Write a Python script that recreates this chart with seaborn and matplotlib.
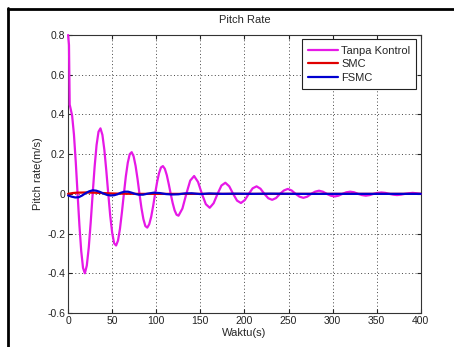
import numpy as np
import pandas as pd
import seaborn as sns
import matplotlib
matplotlib.use("Agg")
import matplotlib.pyplot as plt
from matplotlib.lines import Line2D

# ---- data ----
t_tk = [0.0, 1.0, 1.8, 2.8, 4.56, 6.63, 8.69, 10.75, 12.81, 14.88, 16.94,
        19.0, 21.21, 23.43, 25.64, 27.85, 30.06, 32.28, 34.49,
        36.7, 38.91, 41.13, 43.34, 45.55, 47.76, 49.98, 52.19,
        54.4, 56.61, 58.83, 61.04, 63.25, 65.46, 67.68, 69.89,
        72.1, 74.31, 76.53, 78.74, 80.95, 83.16, 85.38, 87.59,
        89.8, 92.01, 94.23, 96.44, 98.65, 100.86, 103.08, 105.29,
        107.5, 109.71, 111.93, 114.14, 116.35, 118.56, 120.78, 122.99,
        125.2, 129.63, 134.05, 138.48,
        142.9, 147.33, 151.75, 156.18,
        160.6, 165.03, 169.45, 173.88,
        178.3, 182.73, 187.15, 191.58,
        196.0, 200.43, 204.85, 209.28,
        213.7, 218.13, 222.55, 226.98,
        231.4, 235.83, 240.25, 244.68,
        249.1, 253.53, 257.95, 262.38,
        266.8, 271.23, 275.65, 280.08,
        284.5, 288.93, 293.35, 297.78,
        302.2, 306.63, 311.05, 315.48,
        319.9, 324.33, 328.75, 333.18,
        337.6, 342.03, 346.45, 350.88,
        355.3, 359.73, 364.15, 368.58,
        373.0, 377.43, 381.85, 386.28,
        390.7, 395.13, 400.0]
v_tk = [0.80, 0.75, 0.45, 0.43, 0.394, 0.299, 0.160, 0.0, -0.157, -0.288, -0.373,
        -0.40, -0.361, -0.270, -0.143, 0.0, 0.136, 0.246, 0.313,
        0.33, 0.297, 0.221, 0.116, 0.0, -0.110, -0.196, -0.249,
        -0.26, -0.235, -0.175, -0.092, 0.0, 0.088, 0.157, 0.200,
        0.21, 0.189, 0.141, 0.075, 0.0, -0.071, -0.127, -0.162,
        -0.17, -0.153, -0.115, -0.061, 0.0, 0.058, 0.104, 0.133,
        0.14, 0.126, 0.094, 0.049, 0.0, -0.046, -0.083, -0.105,
        -0.11, -0.074, 0.0, 0.067,
        0.09, 0.060, 0.0, -0.052,
        -0.07, -0.047, 0.0, 0.042,
        0.056, 0.038, 0.0, -0.034,
        -0.046, -0.031, 0.0, 0.028,
        0.038, 0.026, 0.0, -0.022,
        -0.030, -0.021, 0.0, 0.017,
        0.025, 0.017, 0.0, -0.014,
        -0.020, -0.014, 0.0, 0.011,
        0.016, 0.011, 0.0, -0.009,
        -0.013, -0.009, 0.0, 0.008,
        0.011, 0.008, 0.0, -0.006,
        -0.009, -0.006, 0.0, 0.005,
        0.007, 0.005, 0.0, -0.004,
        -0.006, -0.004, 0.0, 0.003,
        0.005, 0.003, 0.0]

t_smc = [0, 5, 10, 20, 30, 40, 50, 60, 80, 100, 150, 400]
v_smc = [0.0, 0.004, 0.006, 0.007, 0.006, 0.004, 0.002, 0.001, 0.0, 0.0, 0.0, 0.0]

t_fsmc = [0, 4, 8, 12, 16, 20, 24, 28, 32, 36, 40, 44, 48, 52, 56, 60, 64, 68,
          72, 76, 80, 85, 90, 97, 104, 111, 118, 125, 132, 140, 150, 160, 175,
          190, 210, 230, 260, 300, 350, 400]
v_fsmc = [-0.008, -0.014, -0.018, -0.017, -0.008, 0.004, 0.013, 0.018, 0.016,
          0.010, 0.002, -0.005, -0.008, -0.007, -0.002, 0.006, 0.011, 0.011,
          0.006, 0.000, -0.004, -0.004, 0.001, 0.006, 0.004, -0.001, -0.003,
          -0.002, 0.002, 0.003, -0.001, 0.002, 0.0, 0.001, 0.0, 0.001, 0.0,
          0.0, 0.0, 0.0]

series_names = ["Tanpa Kontrol", "SMC", "FSMC"]
x_ticks = [0, 50, 100, 150, 200, 250, 300, 350, 400]
y_ticks = [-0.6, -0.4, -0.2, 0, 0.2, 0.4, 0.6, 0.8]
y_tick_labels = ["-0.6", "-0.4", "-0.2", "0", "0.2", "0.4", "0.6", "0.8"]

df = pd.concat([
    pd.DataFrame({"t": t_tk, "v": v_tk, "s": series_names[0]}),
    pd.DataFrame({"t": t_smc, "v": v_smc, "s": series_names[1]}),
    pd.DataFrame({"t": t_fsmc, "v": v_fsmc, "s": series_names[2]}),
], ignore_index=True)

sns.set_style("white")
plt.rcParams["font.family"] = ["Liberation Sans", "DejaVu Sans"]

fig = plt.figure(figsize=(4.54, 3.47), dpi=100)
ax = fig.add_axes([0.150, 0.098, 0.777, 0.801])

palette = {"Tanpa Kontrol": "#e619e6", "SMC": "#e00000", "FSMC": "#0000d0"}
sns.lineplot(data=df, x="t", y="v", hue="s", palette=palette, ax=ax,
             linewidth=1.6, legend=False, sort=False, estimator=None)
for ln in ax.lines:
    ln.set_clip_on(False)
    ln.set_zorder(3)

ax.set_xlim(0, 400)
ax.set_ylim(-0.6, 0.8)
ax.set_xticks(x_ticks)
ax.set_yticks(y_ticks)
ax.set_yticklabels(y_tick_labels)
ax.tick_params(direction="in", length=3, width=0.8, labelsize=7.5,
               top=True, right=True, bottom=True, left=True, pad=2,
               colors="#222222")
ax.grid(True, linestyle=(0, (1, 2.5)), color="#444444", linewidth=0.7)
for sp in ax.spines.values():
    sp.set_visible(True)
    sp.set_color("#333333")
    sp.set_linewidth(0.8)

ax.set_title("Pitch Rate", fontsize=8, pad=9)
ax.set_xlabel("Waktu(s)", fontsize=8, labelpad=1.5)
ax.set_ylabel("Pitch rate(m/s)", fontsize=8, labelpad=3)

handles = [Line2D([], [], color=palette[n], linewidth=1.6) for n in series_names]
leg = ax.legend(handles, series_names, loc="upper right", fontsize=8,
                frameon=True, fancybox=False, framealpha=1, edgecolor="#222222",
                borderpad=0.55, handlelength=2.7, handletextpad=0.25,
                labelspacing=0.32, borderaxespad=0.4)
leg.get_frame().set_linewidth(0.8)
leg.set_zorder(5)

# black frame around figure (top and left edges)
fig.add_artist(Line2D([7.5 / 454, 1.0], [1 - 9 / 347, 1 - 9 / 347],
                      transform=fig.transFigure, color="black", linewidth=2))
fig.add_artist(Line2D([8 / 454, 8 / 454], [0.0, 1 - 8 / 347],
                      transform=fig.transFigure, color="black", linewidth=2))

fig.savefig("out.png", dpi=100)
